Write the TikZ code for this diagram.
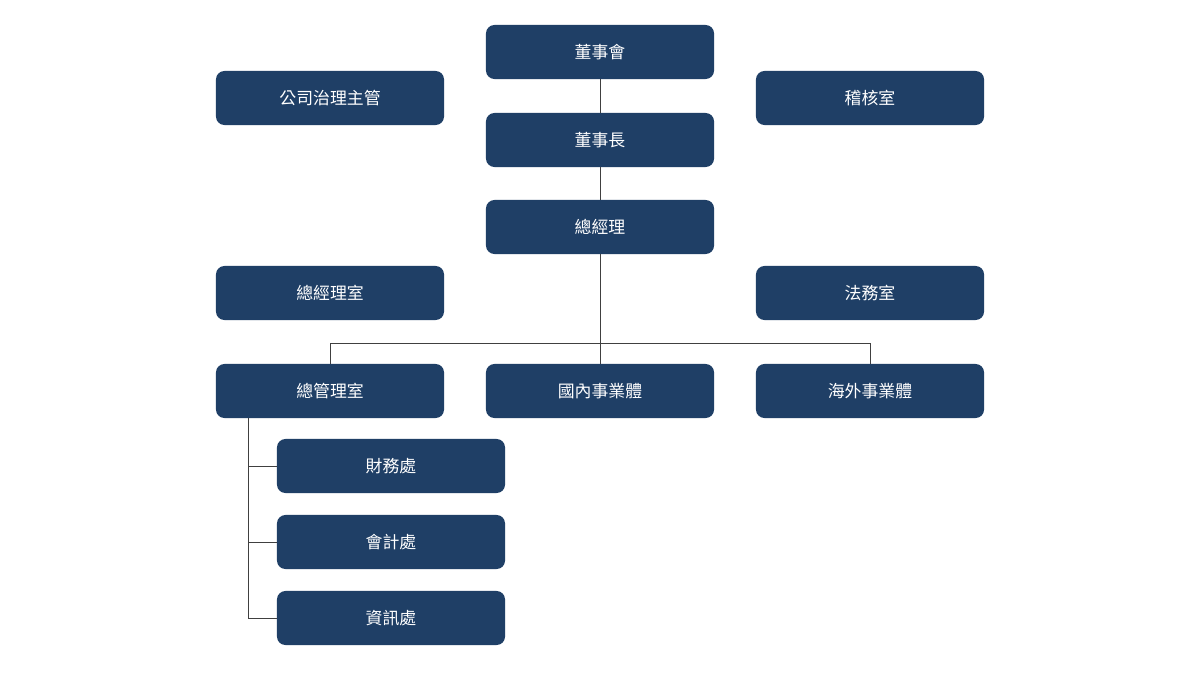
\documentclass[tikz,border=0pt]{standalone}
\usepackage{fontspec}
\setmainfont{Noto Sans CJK TC}
\begin{document}
\begin{tikzpicture}[x=0.025cm,y=-0.025cm,
  box/.style={draw=none,fill=boxc,rounded corners=6pt,minimum width=5.7cm,minimum height=1.35cm,text=white,font=\fontsize{12}{14}\selectfont},
  ln/.style={draw=black!75,line width=0.5pt}]
\definecolor{boxc}{HTML}{1F3F66}
\useasboundingbox[fill=white] (0,0) rectangle (1200,675);
\node[box] (a) at (600,52) {董事會};
\node[box] (b) at (330,98) {公司治理主管};
\node[box] (c) at (870,98) {稽核室};
\node[box] (d) at (600,140) {董事長};
\node[box] (e) at (600,227) {總經理};
\node[box] (f) at (330,293) {總經理室};
\node[box] (g) at (870,293) {法務室};
\node[box] (h) at (330,391) {總管理室};
\node[box] (i) at (600,391) {國內事業體};
\node[box] (j) at (870,391) {海外事業體};
\node[box] (k) at (391,466) {財務處};
\node[box] (l) at (391,542) {會計處};
\node[box] (m) at (391,618) {資訊處};
\coordinate (hb) at (248,418);
\coordinate (j1) at (600,343);
\draw[ln] (a) -- (d);
\draw[ln] (d) -- (e);
\draw[ln] (e) -- (i);
\draw[ln] (h.north) -- (330,343) -- (870,343) -- (j.north);
\draw[ln] (hb) |- (k.west);
\draw[ln] (hb) |- (l.west);
\draw[ln] (hb) |- (m.west);
\end{tikzpicture}
\end{document}
